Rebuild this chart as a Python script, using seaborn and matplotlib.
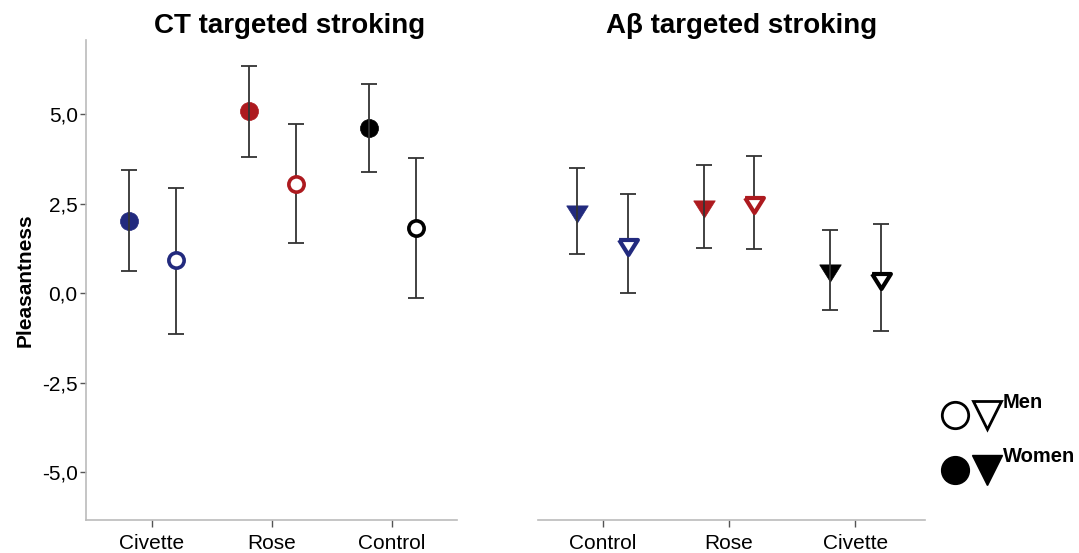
import numpy as np
import pandas as pd
import seaborn as sns
import matplotlib.pyplot as plt
from matplotlib.lines import Line2D
from matplotlib.ticker import FuncFormatter

# Values
ct_odors = ['Civette', 'Rose', 'Control']
ct_women_mean = [2.01, 5.08, 4.62]
ct_women_low = [0.62, 3.81, 3.39]
ct_women_high = [3.43, 6.35, 5.84]
ct_men_mean = [0.92, 3.06, 1.81]
ct_men_low = [-1.13, 1.41, -0.15]
ct_men_high = [2.94, 4.72, 3.78]

ab_odors = ['Control', 'Rose', 'Civette']
ab_women_mean = [2.21, 2.34, 0.55]
ab_women_low = [1.10, 1.27, -0.47]
ab_women_high = [3.50, 3.58, 1.75]
ab_men_mean = [1.29, 2.46, 0.34]
ab_men_low = [0.01, 1.24, -1.07]
ab_men_high = [2.76, 3.83, 1.94]

# colour goes with the position in each panel (1st navy, 2nd red, 3rd black)
position_colors = ['#222a7e', '#ad1a1f', '#000000']

sns.set_style('white')
plt.rcParams['font.family'] = ['Liberation Sans', 'DejaVu Sans']
plt.rcParams['text.color'] = 'black'
plt.rcParams['axes.labelcolor'] = 'black'
plt.rcParams['xtick.color'] = 'black'
plt.rcParams['ytick.color'] = 'black'


def make_df(odors, w_mean, w_low, w_high, m_mean, m_low, m_high):
    rows = []
    for i, o in enumerate(odors):
        rows.append(dict(odor=o, pos=i, sex='Women', mean=w_mean[i], low=w_low[i], high=w_high[i]))
        rows.append(dict(odor=o, pos=i, sex='Men', mean=m_mean[i], low=m_low[i], high=m_high[i]))
    return pd.DataFrame(rows)


ct_df = make_df(ct_odors, ct_women_mean, ct_women_low, ct_women_high,
                ct_men_mean, ct_men_low, ct_men_high)
ab_df = make_df(ab_odors, ab_women_mean, ab_women_low, ab_women_high,
                ab_men_mean, ab_men_low, ab_men_high)

# flat downward triangle like the SPSS marker
tri = [(-1.0, 0.8), (1.0, 0.8), (0.0, -0.8), (-1.0, 0.8)]

fig = plt.figure(figsize=(10.79, 5.53), dpi=100)
ax1 = fig.add_axes([86 / 1079, 33 / 553, 371 / 1079, 480 / 553])
ax2 = fig.add_axes([538 / 1079, 33 / 553, 387 / 1079, 480 / 553], sharey=ax1)


def draw_panel(ax, df, marker, ms_w, ms_m, mew_m, dodge):
    for _, r in df.iterrows():
        x = r['pos'] + (-dodge if r['sex'] == 'Women' else dodge)
        c = position_colors[r['pos']]
        ax.errorbar(x, r['mean'], yerr=[[r['mean'] - r['low']], [r['high'] - r['mean']]],
                    fmt='none', ecolor='#333333', elinewidth=1.3, capsize=6,
                    capthick=1.3, zorder=2)
        if r['sex'] == 'Women':
            ax.plot(x, r['mean'], marker=marker, ms=ms_w, mfc=c, mec=c, mew=0.5,
                    ls='none', zorder=1)
        else:
            ax.plot(x, r['mean'], marker=marker, ms=ms_m, mfc='white', mec=c, mew=mew_m,
                    ls='none', zorder=3)
    ax.set_xticks(range(len(df['odor'].unique())))
    ax.set_xticklabels(df['odor'].unique(), fontsize=15)


draw_panel(ax1, ct_df, 'o', 13, 11, 2.6, 0.196)
draw_panel(ax2, ab_df, tri, 15.5, 13.5, 3.0, 0.2)

ax1.set_xlim(-0.55, 2.54)
ax2.set_xlim(-0.51, 2.55)
ax1.set_ylim(-6.34, 7.07)
ax1.set_yticks([-5, -2.5, 0, 2.5, 5])
ax1.yaxis.set_major_formatter(FuncFormatter(lambda v, _: f"{v:.1f}".replace('.', ',')))
ax1.tick_params(axis='y', labelsize=15, length=4, width=1, color='#555555', left=True, pad=2)
ax1.tick_params(axis='x', length=5, width=1, color='#555555', bottom=True, pad=5)
ax2.tick_params(axis='x', length=5, width=1, color='#555555', bottom=True, pad=5)
ax2.tick_params(axis='y', left=False, labelleft=False)

for ax in (ax1, ax2):
    for s in ('top', 'right'):
        ax.spines[s].set_visible(False)
    for s in ('left', 'bottom'):
        ax.spines[s].set_color('#bbbbbb')
        ax.spines[s].set_linewidth(1.2)
ax2.spines['left'].set_visible(False)

ax1.set_ylabel('Pleasantness', fontsize=15, fontweight='bold', labelpad=5)
ax1.set_title('CT targeted stroking', fontsize=20, fontweight='bold', x=0.55, pad=5)
ax2.set_title('A\u03b2 targeted stroking', fontsize=20, fontweight='bold', x=0.527, pad=5)

# legend drawn at the right edge
def fx(px):
    return px / 1079


def fy(py):
    return 1 - py / 553


fig.add_artist(Line2D([fx(955)], [fy(415)], marker='o', ms=19, mfc='white', mec='black',
                      mew=2.0, transform=fig.transFigure))
fig.add_artist(Line2D([fx(987)], [fy(415)], marker='v', ms=20, mfc='white', mec='black',
                      mew=2.0, transform=fig.transFigure))
fig.add_artist(Line2D([fx(955)], [fy(470)], marker='o', ms=20, mfc='black', mec='black',
                      transform=fig.transFigure))
fig.add_artist(Line2D([fx(987)], [fy(470)], marker='v', ms=21, mfc='black', mec='black',
                      transform=fig.transFigure))
fig.text(fx(1003), fy(402), 'Men', fontsize=14.5, fontweight='bold', va='center', ha='left')
fig.text(fx(1003), fy(457), 'Women', fontsize=14.5, fontweight='bold', va='center', ha='left')

fig.savefig('out.png', dpi=100)
